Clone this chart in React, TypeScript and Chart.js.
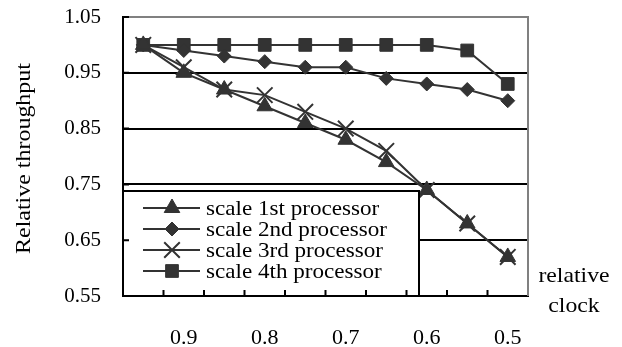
import React, { useEffect, useRef } from 'react';
import { Chart, registerables } from 'chart.js';
import { drawPoint } from 'chart.js/helpers';

Chart.register(...registerables);

const categories = ['0.95', '0.9', '0.85', '0.8', '0.75', '0.7', '0.65', '0.6', '0.55', '0.5'];
const scale1st = [1.0, 0.95, 0.92, 0.89, 0.86, 0.83, 0.79, 0.74, 0.68, 0.62];
const scale2nd = [1.0, 0.99, 0.98, 0.97, 0.96, 0.96, 0.94, 0.93, 0.92, 0.9];
const scale3rd = [1.0, 0.96, 0.92, 0.91, 0.88, 0.85, 0.81, 0.74, 0.68, 0.62];
const scale4th = [1.0, 1.0, 1.0, 1.0, 1.0, 1.0, 1.0, 1.0, 0.99, 0.93];
const seriesNames = ['scale 1st processor', 'scale 2nd processor', 'scale 3rd processor', 'scale 4th processor'];
const yTickValues = [0.55, 0.65, 0.75, 0.85, 0.95, 1.05];
const yTitle = 'Relative throughput';
const xTitleLines = ['relative', 'clock'];

const INK = '#333333';
const FONT = '"Liberation Serif", "Times New Roman", serif';

function drawStretchedText(ctx: CanvasRenderingContext2D, text: string, x: number, y: number, sx: number, align: CanvasTextAlign) {
  ctx.save();
  ctx.translate(x, y);
  ctx.scale(sx, 1);
  ctx.textAlign = align;
  ctx.fillText(text, 0, 0);
  ctx.restore();
}

const decorPlugin = {
  id: 'decor',
  beforeDatasetsDraw(chart: any) {
    const { ctx, chartArea: a } = chart;
    ctx.save();
    ctx.strokeStyle = '#808080';
    ctx.lineWidth = 2;
    ctx.beginPath();
    ctx.moveTo(a.left, a.top);
    ctx.lineTo(a.right, a.top);
    ctx.lineTo(a.right, a.bottom);
    ctx.stroke();
    ctx.restore();
  },
  afterDatasetsDraw(chart: any) {
    const { ctx, chartArea: a } = chart;
    ctx.save();
    const lx = a.left;
    const lw = 296;
    const lh = 105;
    const ly = a.bottom - lh;
    ctx.fillStyle = '#ffffff';
    ctx.fillRect(lx, ly, lw, lh);
    ctx.strokeStyle = '#000000';
    ctx.lineWidth = 2;
    ctx.strokeRect(lx, ly, lw, lh);
    chart.data.datasets.forEach((ds: any, i: number) => {
      const y = ly + 17 + i * 21;
      ctx.strokeStyle = INK;
      ctx.lineWidth = 2;
      ctx.beginPath();
      ctx.moveTo(lx + 20, y);
      ctx.lineTo(lx + 77, y);
      ctx.stroke();
      ctx.fillStyle = INK;
      ctx.strokeStyle = INK;
      ctx.lineWidth = ds.pointBorderWidth;
      drawPoint(ctx, { pointStyle: ds.pointStyle, radius: ds.pointRadius, rotation: 0, borderWidth: ds.pointBorderWidth } as any, lx + 49, y);
      ctx.fillStyle = '#000000';
      ctx.font = `21px ${FONT}`;
      ctx.textBaseline = 'middle';
      drawStretchedText(ctx, ds.label, lx + 83, y + 1, 1.1, 'left');
    });
    ctx.restore();
  },
  afterDraw(chart: any) {
    const { ctx, chartArea: a } = chart;
    ctx.save();
    ctx.strokeStyle = '#000000';
    ctx.lineWidth = 2;
    const n = categories.length;
    const step = (a.right - a.left) / n;
    ctx.beginPath();
    for (let i = 1; i < n; i++) {
      const x = a.left + i * step;
      ctx.moveTo(x, a.bottom);
      ctx.lineTo(x, a.bottom - 6);
    }
    const ys = chart.scales.y;
    yTickValues.forEach((v) => {
      const y = ys.getPixelForValue(v);
      ctx.moveTo(a.left, y);
      ctx.lineTo(a.left + 6, y);
    });
    ctx.stroke();
    ctx.fillStyle = '#000000';
    ctx.font = `21px ${FONT}`;
    ctx.textBaseline = 'alphabetic';
    drawStretchedText(ctx, xTitleLines[0], 574, a.bottom - 14, 1.13, 'center');
    drawStretchedText(ctx, xTitleLines[1], 574, a.bottom + 16, 1.13, 'center');
    ctx.save();
    ctx.translate(24, (a.top + a.bottom) / 2 + 2);
    ctx.rotate(-Math.PI / 2);
    ctx.textBaseline = 'middle';
    drawStretchedText(ctx, yTitle, 0, 0, 1.14, 'center');
    ctx.restore();
    ctx.restore();
  },
};

export default function App() {
  const ref = useRef<HTMLCanvasElement | null>(null);
  useEffect(() => {
    const canvas = ref.current;
    if (!canvas) return;
    const mk = (label: string, data: number[], pointStyle: string, radius: number, bw: number) => ({
      label,
      data,
      borderColor: INK,
      backgroundColor: INK,
      borderWidth: 2,
      pointStyle,
      pointRadius: radius,
      pointBorderWidth: bw,
      pointBackgroundColor: INK,
      pointBorderColor: INK,
      tension: 0,
    });
    const chart = new Chart(canvas, {
      type: 'line',
      data: {
        labels: categories,
        datasets: [
          mk(seriesNames[0], scale1st, 'triangle', 9, 1),
          mk(seriesNames[1], scale2nd, 'rectRot', 7, 1),
          mk(seriesNames[2], scale3rd, 'crossRot', 11, 2),
          mk(seriesNames[3], scale4th, 'rect', 9, 1),
        ] as any,
      },
      options: {
        responsive: false,
        animation: false,
        layout: { padding: { left: 0, top: 17, right: 94, bottom: 0 } },
        plugins: { legend: { display: false }, tooltip: { enabled: false } },
        scales: {
          x: {
            type: 'category',
            offset: true,
            grid: { display: false, drawTicks: false },
            border: { display: true, color: '#000000', width: 2 },
            ticks: {
              autoSkip: false,
              maxRotation: 0,
              padding: 29,
              color: '#000000',
              font: { family: FONT, size: 22 },
              callback: (_v: any, i: number) => (i % 2 === 1 ? categories[i] : ''),
            },
            afterFit: (s: any) => { s.height = 51; s.paddingLeft = 0; s.paddingRight = 0; },
          },
          y: {
            min: 0.55,
            max: 1.05,
            afterBuildTicks: (s: any) => { s.ticks = yTickValues.map((v) => ({ value: v })); },
            afterFit: (s: any) => { s.width = 123; s.paddingTop = 0; s.paddingBottom = 0; },
            grid: {
              drawTicks: false,
              lineWidth: 2,
              color: (c: any) => (c.tick && Math.abs(c.tick.value - 1.05) < 1e-6 ? '#808080' : '#000000'),
            },
            border: { display: true, color: '#000000', width: 2 },
            ticks: {
              padding: 22,
              color: '#000000',
              font: { family: FONT, size: 21 },
              callback: (v: any) => Number(v).toFixed(2),
            },
          },
        },
      },
      plugins: [decorPlugin],
    });
    return () => chart.destroy();
  }, []);
  return (
    <div style={{ position: 'fixed', left: 0, top: 0, width: 622, height: 347, background: '#ffffff' }}>
      <canvas ref={ref} width={622} height={347} style={{ display: 'block' }} />
    </div>
  );
}
